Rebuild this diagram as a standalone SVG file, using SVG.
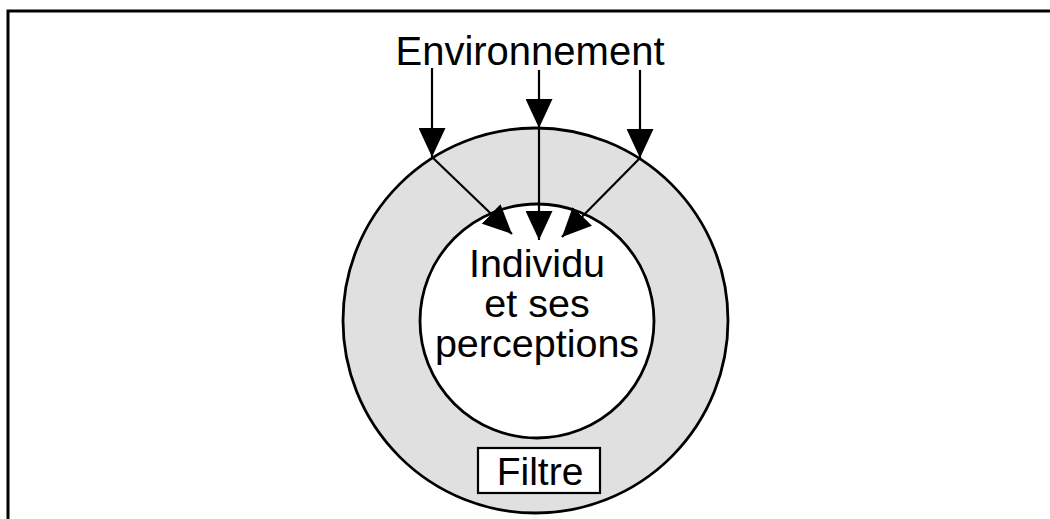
<svg xmlns="http://www.w3.org/2000/svg" width="1050" height="519" viewBox="0 0 1050 519">
<style>
.t{font-family:"Liberation Sans",Arial,sans-serif;font-size:39.5px;fill:#000;text-anchor:middle}
.ln{stroke:#000;stroke-width:2.2;fill:none}
</style>
<defs>
<marker id="ah" markerUnits="userSpaceOnUse" markerWidth="29" markerHeight="27" refX="29" refY="13.5" orient="auto">
<path d="M0,0 L29,13.5 L0,27 Z" fill="#000"/>
</marker>
</defs>
<rect width="1050" height="519" fill="#fff"/>
<rect x="8" y="11" width="1100" height="600" fill="none" stroke="#000" stroke-width="3"/>
<g id="filtre">
<circle cx="535.5" cy="320.5" r="192.5" fill="#e0e0e0" stroke="#000" stroke-width="2.8"/>
<rect x="478" y="448" width="122" height="45" fill="#fff" stroke="#000" stroke-width="2.2"/>
<text class="t" x="540" y="485" style="font-size:39px">Filtre</text>
</g>
<g id="individu">
<circle cx="537" cy="321" r="117" fill="#fff" stroke="#000" stroke-width="2.8"/>
<text class="t" x="537" y="277">Individu</text>
<text class="t" x="537" y="317">et ses</text>
<text class="t" x="537" y="357">perceptions</text>
</g>
<g id="environnement">
<text class="t" x="530" y="65" style="font-size:40px">Environnement</text>
</g>
<g id="connectors">
<line class="ln" x1="432" y1="68" x2="432" y2="157" marker-end="url(#ah)"/>
<line class="ln" x1="539" y1="70" x2="539" y2="128" marker-end="url(#ah)"/>
<line class="ln" x1="640" y1="70" x2="640" y2="158" marker-end="url(#ah)"/>
<line class="ln" x1="432" y1="157" x2="512" y2="234" marker-end="url(#ah)"/>
<line class="ln" x1="539" y1="128" x2="539" y2="240" marker-end="url(#ah)"/>
<line class="ln" x1="640" y1="158" x2="562" y2="237" marker-end="url(#ah)"/>
</g>
</svg>
